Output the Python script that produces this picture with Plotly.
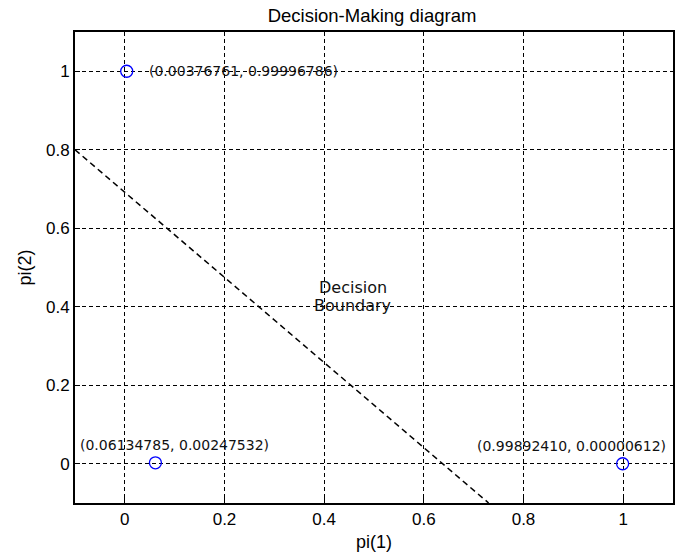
import plotly.graph_objects as go

# Data
pt_x = [0.00376761, 0.06134785, 0.99892410]
pt_y = [0.99996786, 0.00247532, 0.00000612]
pt_labels = ["(0.00376761, 0.99996786)", "(0.06134785, 0.00247532)", "(0.99892410, 0.00000612)"]
boundary_x = [-0.1, 0.73]
boundary_y = [0.8, -0.1]
tick_vals = [0, 0.2, 0.4, 0.6, 0.8, 1]
tick_text = ["0", "0.2", "0.4", "0.6", "0.8", "1"]

fig = go.Figure()
fig.add_trace(go.Scatter(x=boundary_x, y=boundary_y, mode="lines",
                         line=dict(color="black", width=1.5, dash="6px,4px"),
                         showlegend=False, hoverinfo="skip"))
fig.add_trace(go.Scatter(x=pt_x, y=pt_y, mode="markers",
                         marker=dict(symbol="circle-open", size=12, color="blue",
                                     line=dict(width=1.3, color="blue")),
                         showlegend=False))

ann_font = dict(family="DejaVu Sans", size=14, color="#111")
fig.add_annotation(x=pt_x[0], y=pt_y[0], text=pt_labels[0], showarrow=False,
                   xanchor="left", yanchor="middle", xshift=20, font=ann_font)
fig.add_annotation(x=pt_x[1], y=pt_y[1], text=pt_labels[1], showarrow=False,
                   xanchor="center", yanchor="bottom", xshift=19, yshift=8, font=ann_font)
fig.add_annotation(x=pt_x[2], y=pt_y[2], text=pt_labels[2], showarrow=False,
                   xanchor="center", yanchor="bottom", xshift=-51, yshift=8, font=ann_font)
db_font = dict(family="DejaVu Sans", size=16, color="#111")
fig.add_annotation(x=0.457, y=0.448, text="Decision", showarrow=False,
                   xanchor="center", yanchor="middle", font=db_font)
fig.add_annotation(x=0.457, y=0.402, text="Boundary", showarrow=False,
                   xanchor="center", yanchor="middle", font=db_font)

axis_common = dict(
    tickvals=tick_vals, ticktext=tick_text,
    showgrid=True, gridcolor="black", gridwidth=1, griddash="4px,3px",
    zeroline=False, showline=True, linecolor="black", linewidth=2, mirror=True,
    ticks="inside", ticklen=5, tickcolor="black", automargin=False,
    tickfont=dict(family="Liberation Sans", size=17, color="black"),
)
title_font = dict(family="Liberation Sans", size=18, color="black")
fig.update_xaxes(range=[-0.1, 1.1], title=dict(text="pi(1)", font=title_font, standoff=7), **axis_common)
fig.update_yaxes(range=[-0.1, 1.1], title=dict(text="pi(2)", font=title_font, standoff=10), **axis_common)

fig.update_layout(
    width=680, height=556,
    margin=dict(l=75, r=7, t=32, b=53),
    paper_bgcolor="white", plot_bgcolor="white",
    title=dict(text="Decision-Making diagram", x=372 / 680, xanchor="center",
               y=1 - 16 / 556, yanchor="middle", yref="container",
               font=dict(family="Liberation Sans", size=18.5, color="black")),
)
# remove the browser's default 8px body margin so the figure sits at the page origin
fig.write_html("out.html", config={"displayModeBar": False},
               post_script="document.body.style.margin='0';")
